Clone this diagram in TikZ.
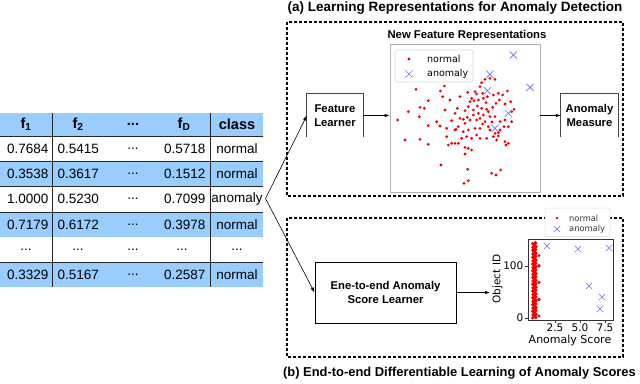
\documentclass[tikz,border=0pt]{standalone}
\usepackage{fontspec}
\setmainfont{Liberation Sans}
\newfontfamily\plotfont{DejaVu Sans}
\usetikzlibrary{arrows.meta}
\definecolor{rowblue}{RGB}{153,204,255}
\definecolor{anomblue}{RGB}{110,110,255}
\definecolor{ptred}{RGB}{240,0,0}
\definecolor{boxgray}{RGB}{70,70,70}
\tikzset{
  cell/.style={font=\fontsize{13.5}{16}\selectfont, inner sep=0pt},
  hcell/.style={font=\bfseries\fontsize{14.5}{16}\selectfont, inner sep=0pt},
  tline/.style={draw=black!85, line width=0.9pt},
  arr/.style={-{Latex[length=5pt,width=3.5pt]}, line width=0.6pt},
  dbox/.style={line width=1.1pt, dash pattern=on 3pt off 2pt},
  ttl/.style={font=\bfseries\fontsize{13.5}{15}\selectfont, inner sep=0pt},
  lbl/.style={font=\bfseries\fontsize{11.3}{13.5}\selectfont, align=center, inner sep=0pt},
  openbox/.style={line width=1.2pt, draw=boxgray},
  crs/.pic={\draw[anomblue, line width=0.6pt] (-3.6pt,-3.6pt) -- (3.6pt,3.6pt) (-3.6pt,3.6pt) -- (3.6pt,-3.6pt);},
  crsb/.pic={\draw[anomblue, line width=0.6pt] (-3.2pt,-3.2pt) -- (3.2pt,3.2pt) (-3.2pt,3.2pt) -- (3.2pt,-3.2pt);},
  plt/.style={font=\plotfont\fontsize{10.5}{12}\selectfont, inner sep=0pt},
  leg/.style={font=\plotfont\fontsize{9.5}{11}\selectfont, inner sep=0pt},
  legs/.style={font=\plotfont\fontsize{8.3}{9}\selectfont, inner sep=0pt, text=black!80},
}
\begin{document}
\begin{tikzpicture}[x=1pt,y=-1pt]
\useasboundingbox (0,0) rectangle (640,383);
\fill[white] (0,0) rectangle (640,383);

% ---------------- table ----------------
\fill[rowblue] (0,112.5) rectangle (263,136);
\fill[rowblue] (0,161) rectangle (263,186.5);
\fill[rowblue] (0,212) rectangle (263,237);
\fill[rowblue] (0,262) rectangle (263,287);
\foreach \yy in {136,161,186.5,212,262} \draw[tline] (0,\yy) -- (263,\yy);
\draw[tline] (52.7,112.5) -- (52.7,287);
\draw[tline] (210,112.5) -- (210,287);

\node[hcell] (h1) at (26,124.5) {f\textsubscript{1}};
\node[hcell] (h2) at (78,124.5) {f\textsubscript{2}};
\node[hcell] (h3) at (133,124.5) {...};
\node[hcell] (h4) at (184,124.5) {f\textsubscript{D}};
\node[hcell] (h5) at (237,124.5) {class};

\foreach \a/\b/\d/\e/\y [count=\i] in {0.7684/0.5415/0.5718/normal/148.5, 0.3538/0.3617/0.1512/normal/173.5, 1.0000/0.5230/0.7099/anomaly/199, 0.7179/0.6172/0.3978/normal/224.5, 0.3329/0.5167/0.2587/normal/274.5}{
  \node[cell, anchor=east] (r\i c1) at (48.5,\y) {\a};
  \node[cell, anchor=west] (r\i c2) at (57.5,\y) {\b};
  \node[cell] (r\i c3) at (133,\y) {...};
  \node[cell, anchor=east] (r\i c4) at (205.5,\y) {\d};
  \node[cell] (r\i c5) at (237,\y) {\e};
}
\node[cell] (e1) at (26,249.5) {...};
\node[cell] (e2) at (78,249.5) {...};
\node[cell] (e3) at (133,249.5) {...};
\node[cell] (e4) at (182,249.5) {...};
\node[cell] (e5) at (237,249.5) {...};

\coordinate (src) at (265.5,198.5);

% ---------------- panel (a) ----------------
\node[ttl] (ta) at (455,8) {(a) Learning Representations for Anomaly Detection};
\draw[dbox] (287,22) rectangle (623,196);

\node[lbl, minimum width=56pt, minimum height=43pt] (fl) at (335,115.5) {Feature\\Learner};
\draw[openbox] (fl.south west) -- (fl.north west) -- (fl.north east) -- (fl.south east);
\node[lbl, minimum width=57pt, minimum height=43pt] (am) at (589.5,115.5) {Anomaly\\Measure};
\draw[openbox] (am.south west) -- (am.north west) -- (am.north east) -- (am.south east);

\node[font=\bfseries\fontsize{11.3}{13}\selectfont, inner sep=0pt] (nfr) at (467,36) {New Feature Representations};
\node[draw=black!30, line width=0.8pt, minimum width=150pt, minimum height=148pt, inner sep=0pt] (sc) at (465,118) {};

\begin{scope}[shift={(380,30)}, x=0.33333pt, y=-0.33333pt]
\foreach \px/\py in {108/178,193/168,181/183,188/200,210/210,240/200,263/187,285/185,290/192,300/170,305/158,315/148,330/145,345/148,308/190,322/200,340/195,355/190,368/195,382/183,358/210,375/222,392/215,395/245,402/238,145/212,85/245,120/232,133/235,118/260,53/270,145/287,170/275,180/288,195/240,215/272,232/235,255/242,270/215,280/240,262/262,270/270,250/268,292/228,305/235,318/218,325/245,338/232,348/220,345/260,360/275,375/270,372/290,385/290,395/275,300/265,315/275,325/290,285/295,300/295,330/300,345/310,355/308,360/300,200/295,225/300,235/290,250/305,265/300,200/320,215/340,225/340,235/340,205/345,245/325,260/320,275/325,290/315,300/325,320/325,340/320,350/330,355/318,375/335,385/340,378/345,75/330,120/328,145/343,255/352,265/355,275/360,255/372,183/405,263/418,265/452,252/460,335/430,348/435,362/420,240/265,255/280,225/250,295/250,310/255,330/260,265/230,275/205,295/210,310/205,228/298,290/270,308/282,280/255,320/238,336/276,282/212}
  \fill[ptred] (\px,\py) circle (1.55pt);
\foreach \px/\py in {330/133,322/182,385/250,345/295,400/75,450/172}
  \pic at (\px,\py) {crs};
\end{scope}
% legend 1
\draw[black!15, line width=0.6pt, rounded corners=2pt] (395,50) rectangle (473,82);
\fill[ptred] (409,59) circle (1.55pt);
\pic at (409,74) {crs};
\node[leg, anchor=west] (ln1) at (427,59) {normal};
\node[leg, anchor=west] (la1) at (427,73.5) {anomaly};

\draw[arr] (fl.east) -- (sc.west |- fl.east);
\draw[arr] (sc.east |- am.west) -- (am.west);

% ---------------- panel (b) ----------------
\node[ttl, font=\bfseries\fontsize{12.9}{15}\selectfont] (tb) at (459.5,373) {(b) End-to-end Differentiable Learning of Anomaly Scores};
\draw[dbox] (287,218) rectangle (623,357);

\node[lbl, draw=black, line width=0.9pt, minimum width=141pt, minimum height=61pt] (el) at (385.5,292.5) {Ene-to-end Anomaly\\Score Learner};
\coordinate (p2in) at (490,292.5);
\draw[arr] (el.east) -- (p2in);

% plot 2
\draw[black!80, line width=0.6pt] (528,239) rectangle (613,320);
\foreach \i in {0,...,145} {
  \pgfmathsetmacro\xx{532.6+mod(\i*37,13)*0.3}
  \fill[ptred] (\xx,{318-\i*0.52}) circle (1.7pt);
}
\foreach \i in {4,35,36,68,69,100,101,120} \fill[ptred] (539,{318-\i*0.52}) circle (1.6pt);
\foreach \px/\py in {547/246,578/249,609/248,589/286,602/297,600/309}
  \pic at (\px,\py) {crsb};
\draw[black!80, line width=0.6pt] (528,318) -- (525,318) (528,266) -- (525,266);
\draw[black!80, line width=0.6pt] (555,320) -- (555,323) (580,320) -- (580,323) (605,320) -- (605,323);
\node[plt, anchor=east] (y0) at (523.5,318) {0};
\node[plt, anchor=east] (y100) at (523.5,266) {100};
\node[plt, anchor=north] (x1) at (555,324) {2.5};
\node[plt, anchor=north] (x2) at (580,324) {5.0};
\node[plt, anchor=north] (x3) at (605,324) {7.5};
\node[plt, rotate=90] (oid) at (497.5,279) {Object ID};
\node[plt, font=\plotfont\fontsize{11}{12}\selectfont] (asc) at (570,340) {Anomaly Score};
% legend 2
\filldraw[fill=white, draw=black!15, line width=0.5pt, rounded corners=1.5pt] (545,208) rectangle (610,236.5);
\fill[ptred] (557,218) circle (1.3pt);
\pic at (557,229) {crsb};
\node[legs, anchor=west] (ln2) at (569,218) {normal};
\node[legs, anchor=west] (la2) at (569,229) {anomaly};

% ---------------- connectors from table ----------------
\draw[arr] (src) -- (fl.west);
\draw[arr] (src) -- (el.west);
\end{tikzpicture}
\end{document}
